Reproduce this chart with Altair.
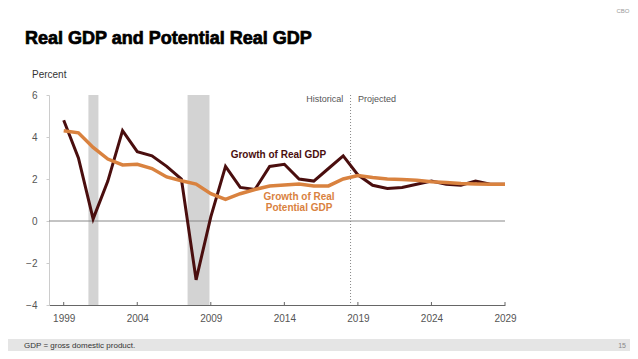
import altair as alt
import pandas as pd

years = list(range(1999, 2030))
real_gdp = [4.8, 3.0, 0.1, 1.9, 4.3, 3.3, 3.1, 2.6, 2.0, -2.8, 0.2, 2.6, 1.6, 1.5, 2.6, 2.7,
            2.0, 1.9, 2.5, 3.1, 2.2, 1.7, 1.55, 1.6, 1.75, 1.9, 1.75, 1.7, 1.9, 1.75, 1.75]
potential_gdp = [4.3, 4.2, 3.5, 2.95, 2.67, 2.7, 2.5, 2.1, 1.92, 1.76, 1.3, 1.03, 1.3, 1.5, 1.67, 1.71,
                 1.76, 1.67, 1.67, 2.0, 2.17, 2.07, 2.0, 1.98, 1.94, 1.87, 1.83, 1.78, 1.76, 1.75, 1.75]
recession_start = [2000.68, 2007.42]
recession_end = [2001.36, 2008.91]
x_ticks = [1999, 2004, 2009, 2014, 2019, 2024, 2029]
y_ticks = [-4, -2, 0, 2, 4, 6]
split_year = 2018.5

W, H = 456, 210
FONT = "Liberation Sans"
DARK = "#4a0e0e"
ORANGE = "#d9823f"

df = pd.DataFrame({"year": years, "real": real_gdp, "potential": potential_gdp})
rec = pd.DataFrame({"start": recession_start, "end": recession_end})
ticks_df = pd.DataFrame({"year": x_ticks})

xs = alt.Scale(domain=[1998, 2029], nice=False, zero=False)
ys = alt.Scale(domain=[-4, 6], nice=False, zero=False)

xaxis = alt.Axis(values=x_ticks, format="d", title=None, grid=False, tickSize=0,
                 labelPadding=8, labelFlush=False, domainColor="#666666",
                 labelColor="#555555", labelFontSize=10, labelFont=FONT)
yaxis = alt.Axis(values=y_ticks, title=None, grid=False, tickSize=3, tickColor="#cccccc",
                 domainColor="#cccccc", labelPadding=9, labelColor="#555555",
                 labelFontSize=10, labelFont=FONT)

base = alt.Chart(df)

bars = alt.Chart(rec).mark_rect(color="#d3d3d3").encode(
    x=alt.X("start:Q", scale=xs, axis=xaxis),
    x2="end:Q",
    y=alt.value(0),
    y2=alt.value(H),
)

zero = alt.Chart(pd.DataFrame({"y": [0]})).mark_rule(color="#888888", strokeWidth=1).encode(
    y=alt.Y("y:Q", scale=ys, axis=yaxis),
)

split = alt.Chart(pd.DataFrame({"x": [split_year]})).mark_rule(
    color="#888888", strokeWidth=1, strokeDash=[1, 2]
).encode(x=alt.X("x:Q", scale=xs))

inticks = alt.Chart(ticks_df).mark_rule(color="#666666", strokeWidth=1).encode(
    x=alt.X("year:Q", scale=xs), y=alt.value(H - 3), y2=alt.value(H)
)

real_line = base.mark_line(color=DARK, strokeWidth=3).encode(
    x=alt.X("year:Q", scale=xs), y=alt.Y("real:Q", scale=ys)
)
pot_line = base.mark_line(color=ORANGE, strokeWidth=3.5).encode(
    x=alt.X("year:Q", scale=xs), y=alt.Y("potential:Q", scale=ys)
)

def label(text, x, y, color, size, weight="normal", align="center"):
    return alt.Chart(pd.DataFrame({"x": [x], "y": [y], "t": [text]})).mark_text(
        color=color, fontSize=size, fontWeight=weight, align=align, baseline="middle", font=FONT
    ).encode(x=alt.X("x:Q", scale=xs), y=alt.Y("y:Q", scale=ys), text="t:N")

lab_real = label("Growth of Real GDP", 2013.6, 3.14, DARK, 10, "bold")
lab_pot1 = label("Growth of Real", 2015.0, 1.16, ORANGE, 10, "bold")
lab_pot2 = label("Potential GDP", 2015.0, 0.63, ORANGE, 10, "bold")
lab_hist = label("Historical", 2018.0, 5.8, "#555555", 9, align="right")
lab_proj = label("Projected", 2019.0, 5.8, "#555555", 9, align="left")

def ptext(text, x, y, size, color, weight="normal", align="left", baseline="alphabetic", sw=0):
    return alt.Chart(pd.DataFrame({"t": [text]})).mark_text(
        fontSize=size, color=color, fontWeight=weight, align=align, baseline=baseline, font=FONT,
        stroke=color, strokeWidth=sw
    ).encode(x=alt.value(x), y=alt.value(y), text="t:N")

title = ptext("Real GDP and Potential Real GDP", -24, -51, 18, "#000000", "bold", sw=0.7)
percent = ptext("Percent", -17, -17, 10, "#333333")
cbo = ptext("CBO", 574, -82, 6, "#999999", align="center")

footer_band = alt.Chart(pd.DataFrame({"a": [0]})).mark_rect(color="#e5e5e5").encode(
    x=alt.value(-41), x2=alt.value(W + 125), y=alt.value(H + 34), y2=alt.value(H + 46)
)
footer = ptext("GDP = gross domestic product.", -25, H + 43, 8, "#333333")
page = ptext("15", W + 121, H + 43, 7, "#888888", align="right")

chart = alt.layer(
    bars, zero, split, inticks, real_line, pot_line,
    lab_real, lab_pot1, lab_pot2, lab_hist, lab_proj,
    title, percent, cbo, footer_band, footer, page
).properties(
    width=W, height=H,
    background="white",
    autosize=alt.AutoSizeParams(type="none"),
    padding={"left": 41, "top": 87, "right": 125, "bottom": 46},
).configure_view(strokeWidth=0, stroke="transparent")

chart.save("out.html", embed_options={"renderer": "svg", "actions": False})
